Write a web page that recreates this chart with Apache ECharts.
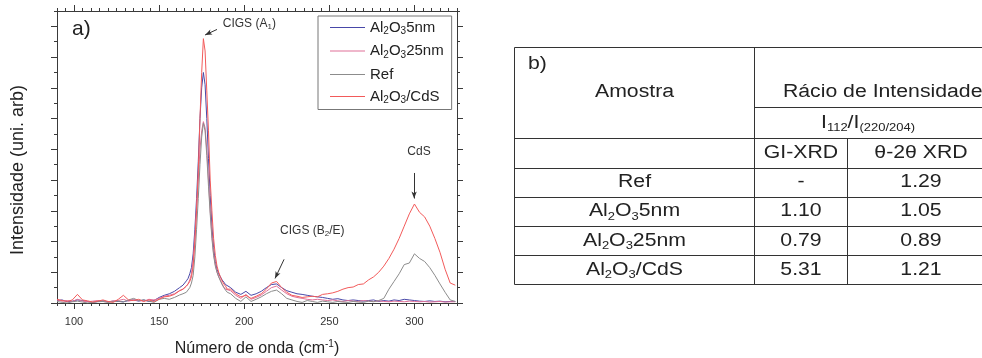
<!DOCTYPE html>
<html><head><meta charset="utf-8">
<script src="https://cdn.jsdelivr.net/npm/echarts@6/dist/echarts.min.js"></script>
<style>html,body{margin:0;padding:0;background:#fff}#c{width:982px;height:358px}</style>
</head><body><div id="c"></div>
<script>
// ---------------- data ----------------
const wavenumber = [90,93,96,99,102,105,108,111,114,117,120,123,126,129,132,135,138,141,144,147,150,153,156,159,162,
164,165,166,167,168,169,170,171,172,173,174,175,176,177,178,179,180,181,182,183,184,185,186,187,188,189,190,
192,195,198,201,204,207,210,213,216,219,222,225,228,231,234,237,240,243,246,249,252,255,258,261,264,267,270,273,276,279,282,285,288,291,294,297,300,303,306,309,312,315,318,321,324];

const al2o3_5nm = [.08,.10,.04,.06,.10,.08,.05,.02,.05,.07,.04,.06,.05,.04,.08,.10,.06,.10,.05,.08,.18,.25,.30,.38,.50,
.58,.65,.72,.80,.95,1.15,1.6,2.4,3.4,4.6,6.0,7.0,7.5,7.1,6.0,4.7,3.5,2.5,1.8,1.35,1.1,.95,.85,.75,.68,.60,.55,
.50,.35,.28,.38,.25,.30,.38,.50,.60,.62,.50,.40,.35,.30,.28,.25,.22,.20,.18,.15,.12,.14,.10,.08,.10,.08,.06,.08,.10,.05,.08,.06,.10,.08,.12,.10,.08,.06,.05,.07,.05,.06,.04,.05,.05];

const al2o3_25nm = [.10,.06,.08,.05,.12,.06,.04,.06,.08,.05,.03,.07,.08,.12,.06,.10,.08,.06,.12,.10,.15,.22,.25,.30,.40,
.45,.50,.55,.62,.75,.95,1.4,2.1,3.1,4.0,5.0,5.6,5.9,5.7,5.0,4.0,3.0,2.2,1.6,1.25,1.0,.85,.75,.62,.52,.45,.40,
.40,.25,.15,.28,.12,.18,.26,.38,.50,.55,.42,.30,.22,.18,.15,.12,.10,.12,.10,.08,.10,.07,.05,.08,.06,.05,.08,.06,.05,.07,.05,.04,.06,.05,.04,.06,.05,.04,.05,.03,.04,.05,.03,.04,.04];

const ref = [.05,.02,.00,.04,.06,.03,.00,.02,.04,.05,.02,.04,.06,.03,.10,.15,.08,.10,.06,.02,.12,.15,.12,.18,.26,
.30,.32,.35,.40,.50,.65,.90,1.5,2.4,3.4,4.5,5.4,5.85,5.6,4.8,3.8,2.9,2.1,1.55,1.2,1.0,.85,.72,.60,.50,.42,.35,
.30,.15,.05,.20,.05,.12,.20,.30,.38,.42,.30,.15,.10,.05,.02,.08,.05,.02,.06,.04,.02,.05,.03,.02,.05,.03,.02,.06,.04,.08,.15,.45,.70,.95,1.25,1.30,1.60,1.45,1.35,1.15,.90,.62,.35,.10,.05];

const al2o3_cds = [.12,.08,.05,.10,.28,.10,.07,.03,.06,.10,.05,.02,.12,.25,.10,.08,.12,.05,.10,.05,.12,.20,.22,.28,.40,
.45,.50,.55,.62,.70,.85,1.2,2.0,3.0,4.3,6.0,7.5,8.6,8.2,6.9,5.6,4.0,3.0,2.1,1.55,1.2,1.0,.85,.72,.62,.55,.45,
.45,.30,.20,.25,.15,.22,.30,.45,.65,.70,.50,.35,.25,.22,.18,.20,.22,.20,.28,.30,.33,.38,.45,.50,.52,.60,.62,.75,.85,1.0,1.2,1.45,1.75,2.1,2.5,2.9,3.22,2.95,2.8,2.5,2.1,1.65,1.1,.65,.58];

const seriesNames = ['Al2O3 5nm', 'Al2O3 25nm', 'Ref', 'Al2O3/CdS'];
const legendLabels = ['Al_2O_35nm', 'Al_2O_325nm', 'Ref', 'Al_2O_3/CdS'];
const xMajorTicks = [100, 150, 200, 250, 300];
const yMajorTicks = [0, 1, 2, 3, 4, 5, 6, 7, 8, 9];

const annotationLabels = ['CIGS (A_1)', 'CIGS (B_2/E)', 'CdS'];
const annotationAt = [[203, 9.09], [240, 2.34], [302.7, 4.91]];
const arrowStart = [[184, 8.9], [223.4, 1.42], [299.8, 4.23]];
const arrowEnd = [[177, 8.72], [218.1, 0.8], [299.8, 3.4]];

const tableSamples = ['Ref', 'Al_2O_35nm', 'Al_2O_325nm', 'Al_2O_3/CdS'];
const tableGIXRD = ['-', '1.10', '0.79', '5.31'];
const tableTheta = ['1.29', '1.05', '0.89', '1.21'];
const tableHeader = ['Amostra', 'Rácio de Intensidades', 'I_{112}/I_{(220/204)}', 'GI-XRD', 'θ-2θ XRD'];

// ---------------- helpers ----------------
const FONT = '"Liberation Sans", Arial, Helvetica, sans-serif';
function toRich(s, b, sb, sp) {
  let out = '', buf = '';
  const flush = () => { if (buf) { out += '{' + b + '|' + buf + '}'; buf = ''; } };
  for (let i = 0; i < s.length; i++) {
    const c = s[i];
    if (c === '_' || c === '^') {
      flush();
      let t;
      if (s[i + 1] === '{') { const j = s.indexOf('}', i + 2); t = s.slice(i + 2, j); i = j; }
      else { t = s[i + 1]; i++; }
      out += '{' + (c === '_' ? sb : sp) + '|' + t + '}';
    } else buf += c;
  }
  flush();
  return out;
}
function richSet(size, subSize, color, lh) {
  return {
    n: {fontSize: size, fontFamily: FONT, color: color, lineHeight: lh},
    s: {fontSize: subSize, fontFamily: FONT, color: color, lineHeight: subSize, verticalAlign: 'bottom'},
    p: {fontSize: subSize, fontFamily: FONT, color: color, lineHeight: subSize, verticalAlign: 'top'}
  };
}

const axisColor = '#3a3a3a';
const xMinorTicks = []; for (let v = 90; v <= 325; v += 5) xMinorTicks.push(v);
const yMinorTicks = []; for (let v = 0; v <= 9.5; v += 0.5) yMinorTicks.push(v);

const baseX = {type: 'value', min: 90, max: 325, splitLine: {show: false},
  axisLine: {show: true, onZero: false, lineStyle: {color: axisColor, width: 1}}};
const baseY = {type: 'value', min: 0, max: 9.5, splitLine: {show: false},
  axisLine: {show: true, onZero: false, lineStyle: {color: axisColor, width: 1}}};
const tick = (vals, len) => ({show: true, customValues: vals, length: len, inside: false, lineStyle: {color: axisColor, width: 1}});
const noLine = {show: false, onZero: false};

const colors = ['#4848a8', '#e07098', '#8c8c8c', '#f25a5a'];
const seriesData = [al2o3_5nm, al2o3_25nm, ref, al2o3_cds];

const series = seriesNames.map((name, k) => ({
  name: name, type: 'line', symbol: 'none', showSymbol: false,
  lineStyle: {width: 1, color: colors[k]}, itemStyle: {color: colors[k]},
  data: wavenumber.map((x, i) => [x, seriesData[k][i]]),
  z: 2 + k
}));
const annRich = richSet(12, 8, '#333', 14);
series[3].markLine = {
  silent: true, symbol: ['none', 'arrow'], symbolSize: [4, 7], animation: false,
  lineStyle: {color: '#333', width: 1, type: 'solid'}, label: {show: false},
  data: arrowStart.map((s, i) => [{coord: s}, {coord: arrowEnd[i]}])
};
series[3].markPoint = {
  silent: true, symbol: 'rect', symbolSize: 1, itemStyle: {color: 'rgba(0,0,0,0)'}, animation: false,
  label: {show: true, position: 'inside', formatter: p => toRich(p.name, 'n', 's', 'p'), rich: annRich},
  data: annotationAt.map((c, i) => ({name: annotationLabels[i], coord: c}))
};

// ---------------- table (graphic) ----------------
const tb = {L: 514.5, R: 995.5, T: 47.5, B: 284.5, cA: 754.5, cB: 847.5, yR: 107.5, yH: 138.5};
const nRows = tableSamples.length + 1;
const rh = (tb.B - tb.yH) / nRows;
const G = [];
const gl = (x1, y1, x2, y2) => G.push({type: 'line', silent: true, shape: {x1, y1, x2, y2}, style: {stroke: '#333', lineWidth: 1}});
const tRich = richSet(18, 11, '#222', 21);
const gt = (cx, cy, s, align) => G.push({type: 'text', silent: true, x: cx, y: cy, scaleX: 1.18, scaleY: 1,
  style: {x: 0, y: 0, text: toRich(s, 'n', 's', 'p'), rich: tRich, fontSize: 18, fontFamily: FONT, fill: '#222',
    align: align || 'center', verticalAlign: 'middle', textAlign: align || 'center', textVerticalAlign: 'middle'}});
gl(tb.L, tb.T, tb.R, tb.T); gl(tb.L, tb.B, tb.R, tb.B); gl(tb.L, tb.T, tb.L, tb.B); gl(tb.R, tb.T, tb.R, tb.B);
gl(tb.cA, tb.T, tb.cA, tb.B); gl(tb.cB, tb.yH, tb.cB, tb.B);
gl(tb.cA, tb.yR, tb.R, tb.yR); gl(tb.L, tb.yH, tb.R, tb.yH);
for (let i = 1; i < nRows; i++) { const y = Math.round(tb.yH + i * rh) + 0.5; gl(tb.L, y, tb.R, y); }
gt(528, 64, 'b)', 'left');
gt((tb.L + tb.cA) / 2, 92, tableHeader[0]);
gt(888, 92, tableHeader[1]);
gt(868, 123, tableHeader[2]);
const rowY = i => tb.yH + rh * (i + 0.5);
gt((tb.cA + tb.cB) / 2, rowY(0), tableHeader[3]);
gt(921, rowY(0), tableHeader[4]);
tableSamples.forEach((s, i) => {
  gt((tb.L + tb.cA) / 2, rowY(i + 1), s);
  gt((tb.cA + tb.cB) / 2, rowY(i + 1), tableGIXRD[i]);
  gt(921, rowY(i + 1), tableTheta[i]);
});
G.push({type: 'text', silent: true, x: 72, y: 29,
  style: {x: 0, y: 0, text: 'a)', fontSize: 21, fontFamily: FONT, fill: '#222', align: 'left', verticalAlign: 'middle', textAlign: 'left', textVerticalAlign: 'middle'}});

// ---------------- chart ----------------
const chart = echarts.init(document.getElementById('c'), null, {renderer: 'canvas'});
chart.setOption({
  animation: false,
  backgroundColor: '#fff',
  grid: {left: 57, top: 11, width: 400, height: 292, containLabel: false, outerBoundsMode: 'none'},
  legend: {
    orient: 'vertical', left: 318, top: 16, padding: [4, 8, 4, 12], itemGap: 7, itemWidth: 35, itemHeight: 1,
    borderColor: '#777', borderWidth: 1, borderRadius: 0, backgroundColor: '#fff', selectedMode: false,
    data: seriesNames.map((n, k) => ({name: n, icon: 'rect',
      itemStyle: {color: colors[k], borderWidth: 0, opacity: 1}})),
    formatter: n => toRich(legendLabels[seriesNames.indexOf(n)], 'n', 's', 'p'),
    textStyle: {rich: richSet(15, 10, '#222', 18)}
  },
  xAxis: [
    Object.assign({}, baseX, {position: 'bottom', axisTick: tick(xMajorTicks, 6),
      axisLabel: {show: true, customValues: xMajorTicks, fontSize: 11, fontFamily: FONT, color: '#333', margin: 13},
      name: toRich('Número de onda (cm^{-1})', 'n', 's', 'p'), nameLocation: 'middle', nameGap: 36,
      nameTextStyle: {rich: richSet(16, 10, '#222', 20)}}),
    Object.assign({}, baseX, {position: 'bottom', axisLine: noLine, axisTick: tick(xMinorTicks, 3), axisLabel: {show: false}}),
    Object.assign({}, baseX, {position: 'top', axisTick: tick(xMajorTicks, 6), axisLabel: {show: false}}),
    Object.assign({}, baseX, {position: 'top', axisLine: noLine, axisTick: tick(xMinorTicks, 3), axisLabel: {show: false}})
  ],
  yAxis: [
    Object.assign({}, baseY, {position: 'left', axisTick: tick(yMajorTicks, 6), axisLabel: {show: false},
      name: 'Intensidade (uni. arb)', nameLocation: 'middle', nameGap: 30,
      nameTextStyle: {fontSize: 18, fontFamily: FONT, color: '#222', padding: [0, 26, 0, 0]}}),
    Object.assign({}, baseY, {position: 'left', axisLine: noLine, axisTick: tick(yMinorTicks, 3), axisLabel: {show: false}}),
    Object.assign({}, baseY, {position: 'right', axisTick: tick(yMajorTicks, 6), axisLabel: {show: false}}),
    Object.assign({}, baseY, {position: 'right', axisLine: noLine, axisTick: tick(yMinorTicks, 3), axisLabel: {show: false}})
  ],
  series: series,
  graphic: {elements: G}
});
</script>
</body></html>
